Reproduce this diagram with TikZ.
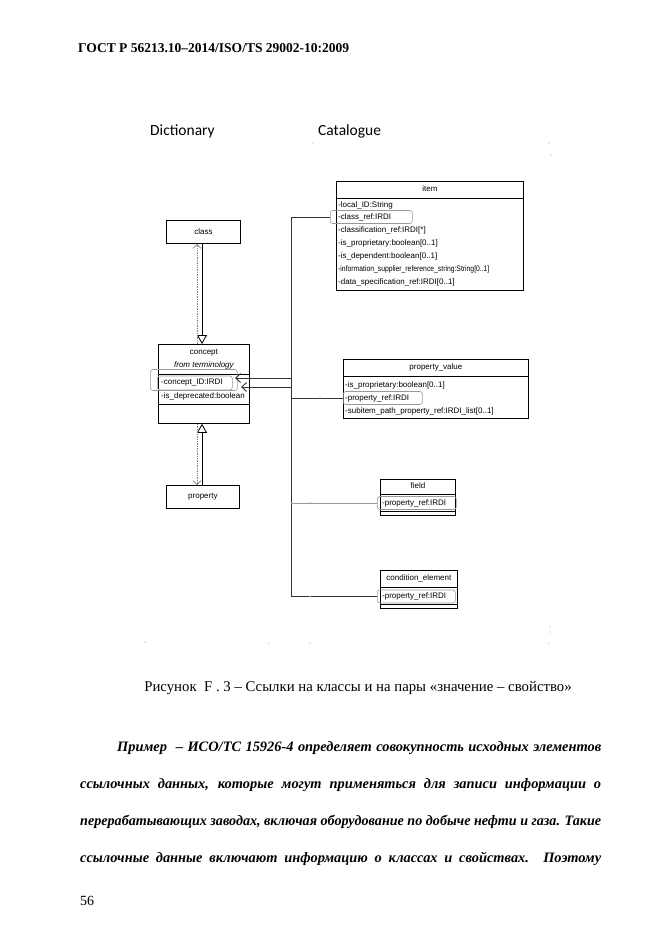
\documentclass[tikz,border=0pt]{standalone}
\usepackage{fontspec}
\usepackage{graphicx}
\setmainfont{Liberation Serif}
\newfontfamily\umlfont{Liberation Sans}
\newfontfamily\calfont{Carlito}
\usetikzlibrary{arrows.meta}
\begin{document}
\begin{tikzpicture}[x=1pt,y=-1pt,
  box/.style={draw, line width=0.8pt, inner sep=0, anchor=north west},
  sepl/.style={line width=0.6pt},
  ttl/.style={inner sep=0, font=\umlfont\fontsize{8}{9}\selectfont},
  row/.style={anchor=west, inner sep=0, font=\umlfont\fontsize{8}{9}\selectfont},
  hl/.style={draw=gray!80, line width=0.6pt, rounded corners=2.5pt, inner sep=0, anchor=west},
  conn/.style={line width=0.9pt, draw=black!80},
  lconn/.style={line width=0.7pt, draw=gray!80},
  gen/.style={line width=0.8pt, -{Triangle[open, length=9pt, width=10pt]}},
  dep/.style={line width=0.7pt, draw=gray, densely dotted, -{Straight Barb[length=4pt, width=8pt]}},
  barb/.style={-{Straight Barb[length=5pt, width=9pt]}},
  dot/.style={fill=gray!70},
  head/.style={inner sep=0, anchor=base west, font=\calfont\fontsize{15.5}{18}\selectfont},
  body/.style={inner sep=0, anchor=base west, font=\bfseries\itshape\fontsize{14.4}{17}\selectfont}
]
\useasboundingbox (0,0) rectangle (661,935);

% page header
\node[inner sep=0, anchor=base west, font=\bfseries\fontsize{13.5}{16}\selectfont] (hdr) at (78,52) {ГОСТ Р 56213.10–2014/ISO/TS 29002-10:2009};

% frame titles
\node[head] (dict) at (150,135) {Dictionary};
\node[head] (cat) at (318,135) {Catalogue};

% tiny frame dots
\fill[dot] (313,143) circle (0.7);
\fill[dot] (549,143) circle (0.7);
\fill[dot] (551,155) circle (0.7);
\fill[dot] (550,626) circle (0.7);
\fill[dot] (550,632) circle (0.7);
\fill[dot] (145,642) circle (0.7);
\fill[dot] (269,643) circle (0.7);
\fill[dot] (310,643) circle (0.7);
\fill[dot] (549,643) circle (0.7);

% ---------- class ----------
\node[box, minimum width=74, minimum height=23] (class) at (166,220) {};
\node[ttl] (classT) at (class.center) {class};

% ---------- concept ----------
\node[box, minimum width=91, minimum height=79] (concept) at (158,344) {};
\node[ttl] (conceptT) at (concept.north |- 0,353) {concept};
\node[ttl, font=\umlfont\itshape\fontsize{8}{9}\selectfont] (conceptS) at (concept.north |- 0,365) {from terminology};
\draw[sepl] (concept.west |- 0,374) -- (concept.east |- 0,374);
\draw[sepl] (concept.west |- 0,404) -- (concept.east |- 0,404);
\node[row] (cid) at (161,383) {-concept\_ID:IRDI};
\node[row] (cdep) at (161,396) {-is\_deprecated:boolean};
\node[hl, minimum width=87, minimum height=21] (hlC1) at (150,380) {};
\node[hl, minimum width=75, minimum height=14] (hlC2) at (157,383) {};

% ---------- property ----------
\node[box, minimum width=73, minimum height=23] (property) at (166,485) {};
\node[ttl] (propertyT) at (property.center) {property};

% generalisations and dependencies
\draw[gen] (class.south -| 202,0) -- (concept.north -| 202,0);
\draw[dep] (concept.north -| 197,0) -- (class.south -| 197,0);
\draw[gen] (property.north -| 202,0) -- (concept.south -| 202,0);
\draw[dep] (concept.south -| 197,0) -- (property.north -| 197,0);

% ---------- item ----------
\node[box, minimum width=187, minimum height=109] (item) at (336,181) {};
\node[ttl] (itemT) at (item.north |- 0,189) {item};
\draw[sepl] (item.west |- 0,198) -- (item.east |- 0,198);
\node[row] (i1) at (338,205) {-local\_ID:String};
\node[row] (i2) at (338,217.5) {-class\_ref:IRDI};
\node[row] (i3) at (338,230.5) {-classification\_ref:IRDI[*]};
\node[row] (i4) at (338,243.5) {-is\_proprietary:boolean[0..1]};
\node[row] (i5) at (338,256.5) {-is\_dependent:boolean[0..1]};
\node[row] (i6) at (338,269.5) {\scalebox{0.85}[1]{-information\_supplier\_reference\_string:String[0..1]}};
\node[row] (i7) at (338,282.5) {-data\_specification\_ref:IRDI[0..1]};
\node[hl, minimum width=82, minimum height=13] (hlI) at (330,217) {};

% ---------- property_value ----------
\node[box, minimum width=185, minimum height=59] (pv) at (343,359) {};
\node[ttl] (pvT) at (pv.north |- 0,367) {property\_value};
\draw[sepl] (pv.west |- 0,376) -- (pv.east |- 0,376);
\node[row] (p1) at (345,385) {-is\_proprietary:boolean[0..1]};
\node[row] (p2) at (345,398) {-property\_ref:IRDI};
\node[row] (p3) at (345,411) {-subitem\_path\_property\_ref:IRDI\_list[0..1]};
\node[hl, minimum width=79, minimum height=13] (hlP) at (343,398) {};

% ---------- field ----------
\node[box, minimum width=75, minimum height=36] (field) at (380,479) {};
\node[ttl] (fieldT) at (field.north |- 0,486) {field};
\draw[sepl] (field.west |- 0,494) -- (field.east |- 0,494);
\draw[sepl] (field.west |- 0,511) -- (field.east |- 0,511);
\node[row] (f1) at (382,503) {-property\_ref:IRDI};
\node[hl, minimum width=79, minimum height=13] (hlF) at (377,503) {};

% ---------- condition_element ----------
\node[box, minimum width=77, minimum height=38] (cond) at (380,570) {};
\node[ttl] (condT) at (cond.north |- 0,578) {condition\_element};
\draw[sepl] (cond.west |- 0,587) -- (cond.east |- 0,587);
\draw[sepl] (cond.west |- 0,604) -- (cond.east |- 0,604);
\node[row] (c1) at (382,596) {-property\_ref:IRDI};
\node[hl, minimum width=78, minimum height=13] (hlCE) at (377,596.5) {};

% ---------- reference connectors ----------
\coordinate (busTop) at (291,217);
\coordinate (busBot) at (291,596.5);
\coordinate (tipA) at (235,378);
\coordinate (tipB) at (241,387);
\draw[conn] (hlI.west) -- (busTop) -- (busBot) -- (hlCE.west);
\draw[conn, barb] (busTop |- tipA) -- (tipA);
\draw[conn, barb] (busTop |- tipB) -- (tipB);
\draw[conn] (busTop |- hlP.west) -- (hlP.west);
\draw[lconn] (busTop |- hlF.west) -- (hlF.west);
\fill[dot] (310,503) circle (0.9);
\fill[dot] (310,596.5) circle (0.9);
\fill[dot] (320,398) circle (0.9);

% caption
\node[inner sep=0, anchor=base, font=\fontsize{14.8}{17}\selectfont] (cap) at (358,691) {Рисунок\ \ F . 3 – Ссылки на классы и на пары «значение – свойство»};

% body text
\node[body] (b1) at (117,751) {\makebox[484pt][s]{Пример\ \ – ИСО/ТС 15926-4 определяет совокупность исходных элементов}};
\node[body] (b2) at (80,788) {\makebox[521pt][s]{ссылочных данных, которые могут применяться для записи информации о}};
\node[body] (b3) at (80,825) {\resizebox{521pt}{\height}{перерабатывающих заводах, включая оборудование по добыче нефти и газа. Такие}};
\node[body] (b4) at (80,862) {\makebox[521pt][s]{ссылочные данные включают информацию о классах и свойствах. Поэтому}};

\node[inner sep=0, anchor=base west, font=\fontsize{14}{17}\selectfont] (pg) at (80,905) {56};
\end{tikzpicture}
\end{document}
